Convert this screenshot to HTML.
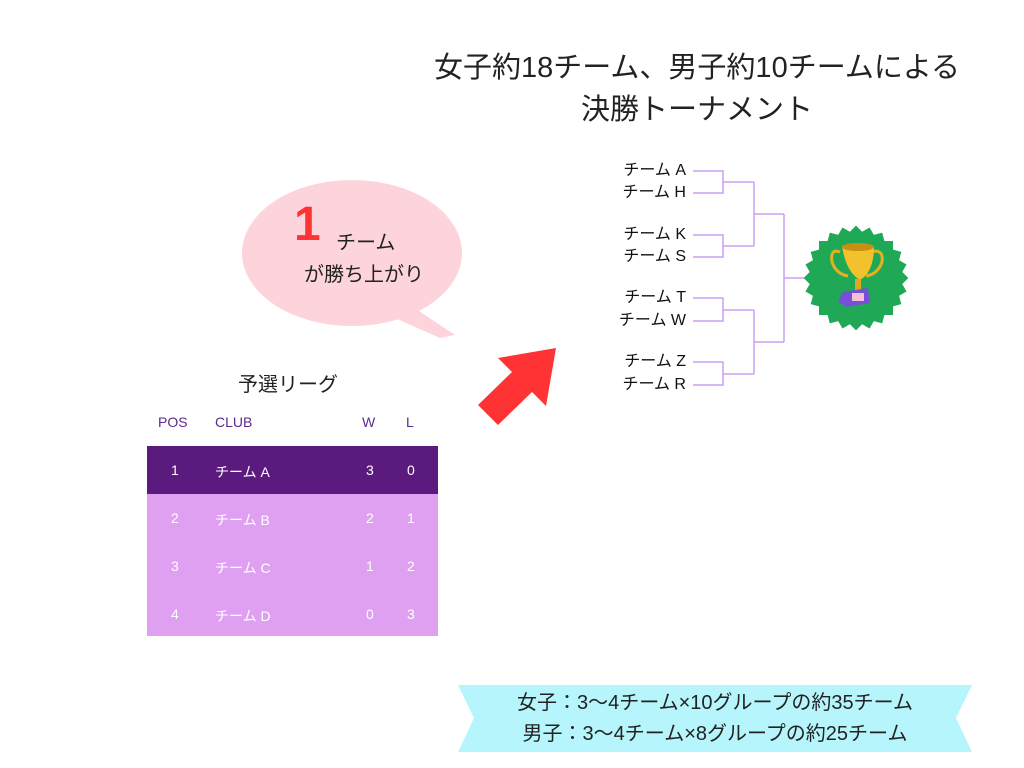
<!DOCTYPE html>
<html><head><meta charset="utf-8"><style>
body{margin:0;width:1024px;height:768px;background:#fff;overflow:hidden;position:relative;font-family:"Liberation Sans","Noto Sans CJK JP",sans-serif;}
.t{position:absolute;white-space:nowrap;}
.title{left:380px;width:634px;text-align:center;font-size:29px;color:#222;line-height:42px;top:47px;}
.team{font-size:16px;color:#111;text-align:right;width:90px;left:596px;line-height:16px;}
.row{position:absolute;left:147px;width:291px;height:48px;font-size:14px;color:#fff;}
.row span{position:absolute;top:16px;}
.hd{position:absolute;top:414px;font-size:14px;color:#5b2a8c;}
</style></head><body>
<div class="t title">女子約18チーム、男子約10チームによる<br>決勝トーナメント</div>

<svg width="1024" height="768" style="position:absolute;left:0;top:0">
<ellipse cx="352" cy="253" rx="110" ry="73" fill="#fdd3dc"/>
<polygon points="410,305 455,335 440,338 395,318" fill="#fdd3dc"/>
<polygon points="478,405 512,372 498,358 556,348 546,406 532,392 498,425" fill="#ff3333"/>
<g stroke="#c9a0f0" stroke-width="1.5" fill="none">
<path d="M693,171H723V193H693M723,182H754"/>
<path d="M693,235H723V257H693M723,246H754"/>
<path d="M693,298H723V321H693M723,310H754"/>
<path d="M693,362H723V385H693M723,374H754"/>
<path d="M754,182V246M754,214H784"/>
<path d="M754,310V374M754,342H784"/>
<path d="M784,214V342M784,278H806"/>
</g>
<g fill="#1fa855" transform="translate(856,278)">
<rect x="-37" y="-37" width="74" height="74"/>
<rect x="-37" y="-37" width="74" height="74" transform="rotate(15)"/>
<rect x="-37" y="-37" width="74" height="74" transform="rotate(30)"/>
<rect x="-37" y="-37" width="74" height="74" transform="rotate(45)"/>
<rect x="-37" y="-37" width="74" height="74" transform="rotate(60)"/>
<rect x="-37" y="-37" width="74" height="74" transform="rotate(75)"/>
</g>
<g>
<path d="M840,252 Q830,248 832,262 Q836,274 848,276" stroke="#e8b020" stroke-width="3" fill="none"/>
<path d="M870,252 Q884,248 882,262 Q878,274 866,276" stroke="#e8b020" stroke-width="3" fill="none"/>
<path d="M842,246 L874,246 Q874,272 860,280 Q846,272 842,246Z" fill="#f2c12e"/>
<ellipse cx="858" cy="247" rx="16" ry="4" fill="#c98f10"/>
<rect x="855" y="279" width="6" height="12" fill="#e0a820"/>
<polygon points="843,292 868,288 870,303 847,307 838,302" fill="#7a4fd8"/>
<rect x="852" y="293" width="12" height="8" fill="#f4c0d8"/>
</g>
<polygon points="458,685 972,685 956,718 972,752 458,752 474,718" fill="#b5f5fb"/>
</svg>

<div class="t" style="left:294px;top:200px;font-size:48px;font-weight:bold;color:#ff3333;line-height:50px;">1</div>
<div class="t" style="left:336px;top:226px;font-size:20px;color:#222;">チーム</div>
<div class="t" style="left:304px;top:258px;font-size:20px;color:#222;">が勝ち上がり</div>

<div class="t team" style="top:163px">チーム A</div>
<div class="t team" style="top:185px">チーム H</div>
<div class="t team" style="top:227px">チーム K</div>
<div class="t team" style="top:249px">チーム S</div>
<div class="t team" style="top:290px">チーム T</div>
<div class="t team" style="top:313px">チーム W</div>
<div class="t team" style="top:354px">チーム Z</div>
<div class="t team" style="top:377px">チーム R</div>

<div class="t" style="left:238px;top:368px;font-size:20px;color:#222;">予選リーグ</div>
<div class="hd" style="left:158px">POS</div>
<div class="hd" style="left:215px">CLUB</div>
<div class="hd" style="left:362px">W</div>
<div class="hd" style="left:406px">L</div>

<div class="row" style="top:446px;background:#5b1a7d"><span style="left:24px">1</span><span style="left:68px">チーム A</span><span style="left:219px">3</span><span style="left:260px">0</span></div>
<div class="row" style="top:494px;background:#e0a0f2"><span style="left:24px">2</span><span style="left:68px">チーム B</span><span style="left:219px">2</span><span style="left:260px">1</span></div>
<div class="row" style="top:542px;background:#e0a0f2"><span style="left:24px">3</span><span style="left:68px">チーム C</span><span style="left:219px">1</span><span style="left:260px">2</span></div>
<div class="row" style="top:590px;background:#e0a0f2;height:46px"><span style="left:24px">4</span><span style="left:68px">チーム D</span><span style="left:219px">0</span><span style="left:260px">3</span></div>

<div class="t" style="left:458px;width:514px;text-align:center;top:688px;font-size:20px;line-height:31px;color:#222;">女子：3〜4チーム×10グループの約35チーム<br>男子：3〜4チーム×8グループの約25チーム</div>
</body></html>
